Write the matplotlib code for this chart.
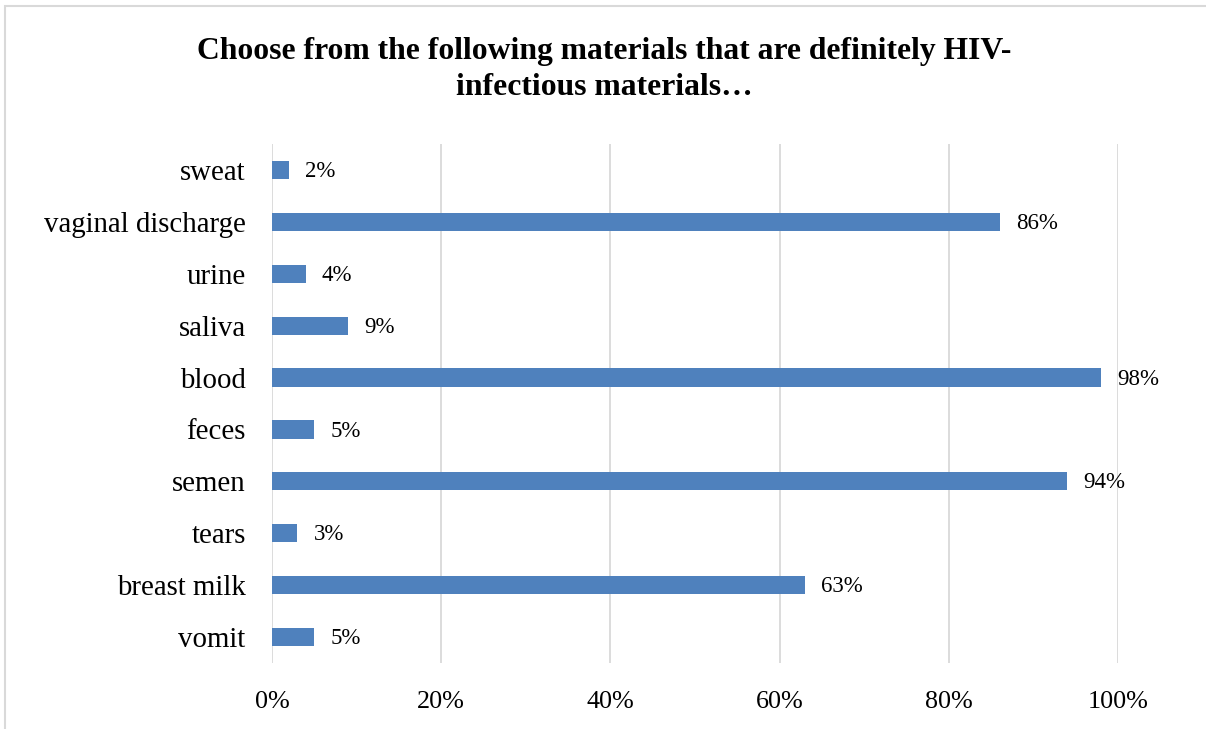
import matplotlib
matplotlib.use("Agg")
import matplotlib.pyplot as plt
from matplotlib.patches import Rectangle

categories = ["sweat", "vaginal discharge", "urine", "saliva", "blood",
              "feces", "semen", "tears", "breast milk", "vomit"]
values = [2, 86, 4, 9, 98, 5, 94, 3, 63, 5]
xticks = [0, 20, 40, 60, 80, 100]
xtick_labels = ["0%", "20%", "40%", "60%", "80%", "100%"]
title = "Choose from the following materials that are definitely HIV-\ninfectious materials\u2026"

plt.rcParams["font.family"] = ["Liberation Serif", "DejaVu Serif"]

W, H = 1206, 729
fig = plt.figure(figsize=(W / 100, H / 100), dpi=100)
ax = fig.add_axes([272 / W, 1 - 663 / H, (1118 - 272) / W, (663 - 144) / H])

# outer chart frame
fig.patches.append(Rectangle((5 / W, -0.05), 1.2, (1 - 6 / H) + 0.05,
                             transform=fig.transFigure, fill=False,
                             edgecolor="#d9d9d9", linewidth=1.5))

bar_color = "#4f81bd"
ypos = list(range(len(categories)))[::-1]
ax.barh(ypos, values, height=0.35, color=bar_color, zorder=3)
for y, v in zip(ypos, values):
    ax.text(v + 1.9, y - 0.03, f"{v}%", va="center", ha="left", fontsize=16.5, color="black")

ax.set_ylim(-0.5, len(categories) - 0.5)
ax.set_xlim(0, 100)
ax.set_yticks(ypos)
ax.set_yticklabels(categories, fontsize=20.8)
ax.set_xticks(xticks)
ax.set_xticklabels(xtick_labels, fontsize=18.8)
ax.tick_params(axis="both", length=0)
ax.tick_params(axis="y", pad=19)
ax.tick_params(axis="x", pad=20)
ax.grid(axis="x", color="#d9d9d9", linewidth=1.3, zorder=0)
for s in ax.spines.values():
    s.set_visible(False)

fig.text(604 / W, 1 - 69.5 / H, title, ha="center", va="center",
         fontsize=22.8, fontweight="bold", linespacing=1.3)

fig.savefig("out.png", dpi=100)
